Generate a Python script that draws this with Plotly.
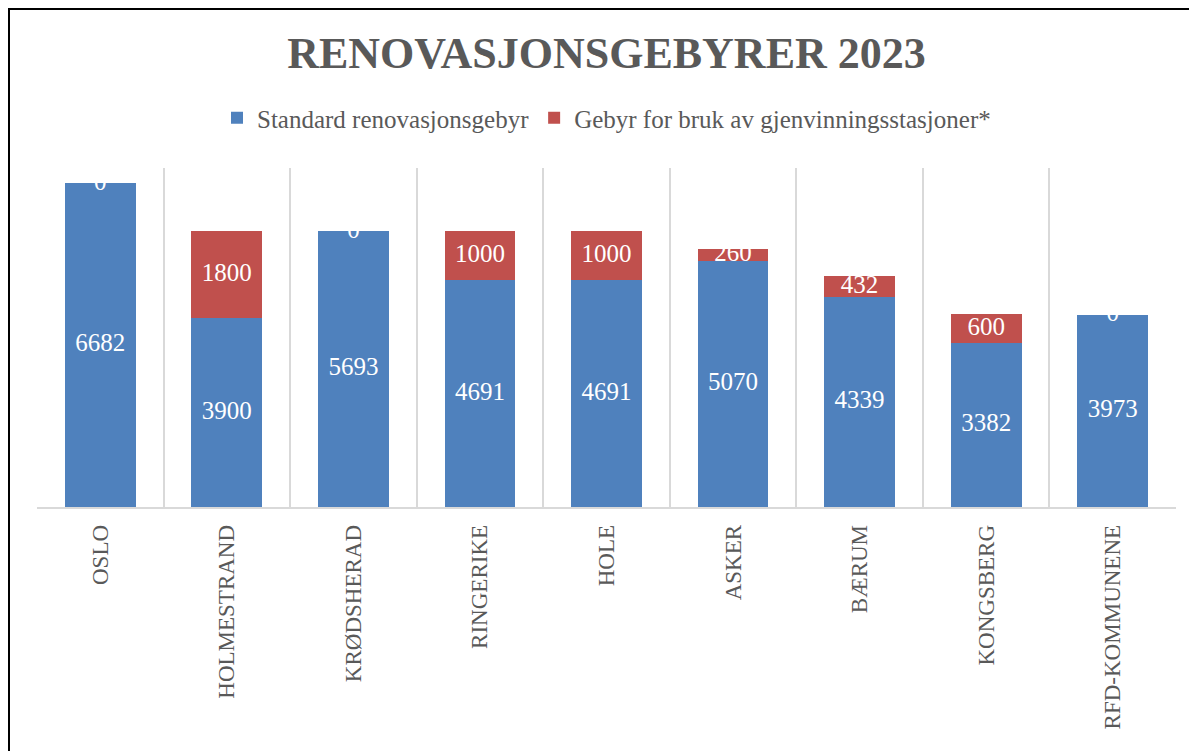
import plotly.graph_objects as go

categories = ["OSLO", "HOLMESTRAND", "KRØDSHERAD", "RINGERIKE", "HOLE",
              "ASKER", "BÆRUM", "KONGSBERG", "RFD-KOMMUNENE"]
standard = [6682, 3900, 5693, 4691, 4691, 5070, 4339, 3382, 3973]
gjenvinning = [0, 1800, 0, 1000, 1000, 260, 432, 600, 0]

BLUE = "#4F81BD"
RED = "#C0504D"
GRAY = "#595959"
FONT = "Liberation Serif"

fig = go.Figure()
fig.add_trace(go.Bar(x=categories, y=standard, name="Standard renovasjonsgebyr",
                     marker=dict(color=BLUE, line=dict(width=0)), width=0.56,
                     hoverinfo="y"))
fig.add_trace(go.Bar(x=categories, y=gjenvinning,
                     name="Gebyr for bruk av gjenvinningsstasjoner*",
                     marker=dict(color=RED, line=dict(width=0)), width=0.56,
                     hoverinfo="y"))

# data labels centered in each segment
fig.add_trace(go.Scatter(x=categories, y=[v / 2 for v in standard],
                         text=[str(v) for v in standard], mode="text",
                         textfont=dict(family=FONT, size=25, color="white"),
                         showlegend=False, hoverinfo="skip", cliponaxis=False))
fig.add_trace(go.Scatter(x=categories,
                         y=[s + g / 2 for s, g in zip(standard, gjenvinning)],
                         text=[str(v) for v in gjenvinning], mode="text",
                         textfont=dict(family=FONT, size=25, color="white"),
                         showlegend=False, hoverinfo="skip", cliponaxis=False))

PLOT_H = 339
fig.update_layout(
    barmode="stack",
    width=1197, height=751,
    paper_bgcolor="white", plot_bgcolor="white",
    margin=dict(l=29, r=29, t=160, b=252),
    title=dict(text="<b>RENOVASJONSGEBYRER 2023</b>", x=0.5, xanchor="center",
               y=1 - 45 / 751, yanchor="middle",
               font=dict(family=FONT, size=44, color=GRAY)),
    legend=dict(orientation="h", x=0.5, xanchor="center", y=1 + 50 / PLOT_H,
                yanchor="middle", traceorder="normal",
                font=dict(family=FONT, size=25, color=GRAY),
                itemwidth=30, tracegroupgap=0),
    font=dict(family=FONT, color=GRAY),
    shapes=[dict(type="rect", xref="paper", yref="paper",
                 x0=(1 - 29) / 1139, x1=1.05, y0=-0.8, y1=(499 - 1) / PLOT_H,
                 line=dict(color="black", width=2), fillcolor="rgba(0,0,0,0)",
                 layer="above")],
)
fig.update_xaxes(type="category", tickson="boundaries", showgrid=True,
                 gridcolor="#D9D9D9", gridwidth=1.5, showline=True,
                 linecolor="#D9D9D9", linewidth=1.5, ticks="", tickangle=-90,
                 ticklabelstandoff=7,
                 tickfont=dict(family=FONT, size=23, color=GRAY))
fig.update_yaxes(range=[0, 7000], showgrid=False, showticklabels=False,
                 zeroline=False, showline=False, ticks="")

fig.write_html("out.html")
